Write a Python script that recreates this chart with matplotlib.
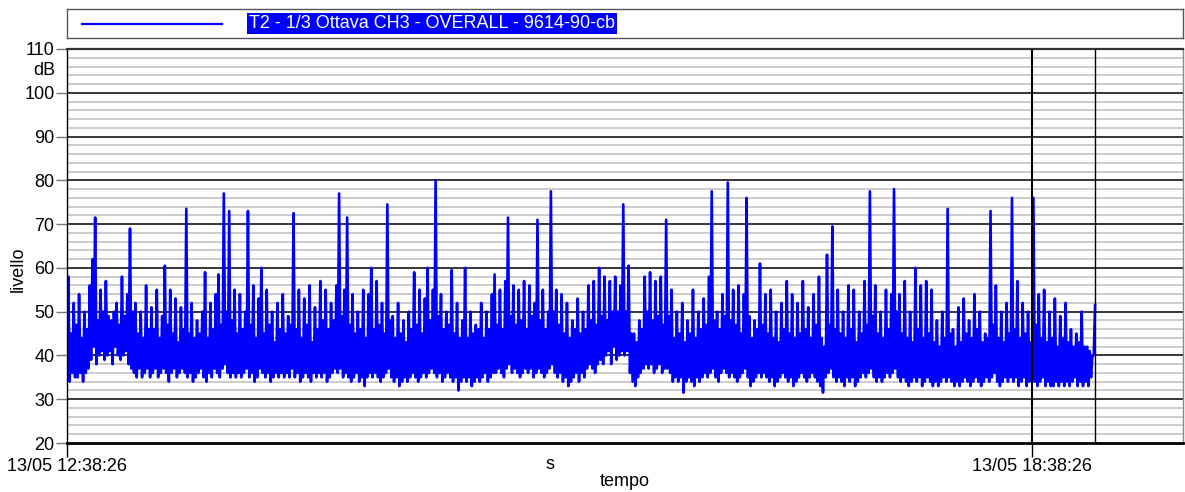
import numpy as np
import pandas as pd
import matplotlib
matplotlib.use("Agg")
import matplotlib.pyplot as plt
import matplotlib.dates as mdates
import matplotlib.transforms as mtransforms

plt.rcParams['font.family'] = ['Liberation Sans Narrow', 'Liberation Sans', 'DejaVu Sans']

# livelli massimi e minimi al minuto (dB), a partire da 13/05 12:38:26
l_max = [
    58, 45, 52, 47, 54, 44, 50, 46, 56, 62, 71.5, 48, 55, 50, 57, 49,
    48, 50, 52, 47, 58, 49, 54, 69, 50, 52, 45, 50, 44, 56, 46, 51,
    46, 55, 44, 49, 60.5, 47, 55, 45, 53, 43, 51, 46, 73.5, 45, 52, 44,
    48, 45, 50, 59, 44, 52, 46, 54, 58.5, 47, 77, 50, 73, 48, 55, 45,
    54, 46, 50, 73, 47, 56, 44, 53, 60, 45, 55, 47, 50, 43, 52, 46,
    54, 45, 49, 47, 72.5, 46, 55, 44, 53, 47, 56, 43, 51, 46, 57, 48,
    55, 46, 52, 48, 56, 77, 49, 55, 71.5, 47, 54, 45, 50, 46, 55, 44,
    54, 60, 46, 57, 47, 52, 45, 74.5, 48, 49, 44, 52, 45, 48, 43, 50,
    46, 59, 47, 55, 45, 53, 60, 48, 55, 80, 49, 54, 46, 50, 47, 59.5,
    45, 52, 44, 48, 60, 44, 50, 45, 47, 46, 52, 44, 50, 46, 54, 58.5,
    47, 55, 46, 57, 71.5, 49, 56, 47, 55, 48, 57, 46, 56, 49, 52, 71,
    48, 55, 46, 50, 77.5, 50, 55, 47, 54, 45, 52, 44, 48, 46, 53, 45,
    50, 46, 56, 48, 57, 47, 60, 49, 58, 48, 57, 50, 58, 50, 56, 74.5,
    50, 60.5, 45, 45, 43, 48, 46, 58, 50, 59, 48, 57, 49, 58, 47, 71,
    49, 55, 44, 50, 45, 52, 43, 48, 45, 55, 44, 50, 46, 53, 47, 58,
    77.5, 48, 50, 46, 54, 49, 79.5, 48, 55, 47, 56, 45, 54, 76, 49, 44,
    48, 46, 61, 47, 54, 45, 55, 44, 50, 43, 52, 46, 57, 45, 54, 44,
    52, 45, 57, 46, 51, 44, 54, 47, 58, 44, 42, 63, 47, 69.5, 46, 55,
    45, 50, 44, 56, 46, 55, 43, 50, 45, 57, 47, 77.5, 49, 56, 45, 50,
    44, 55, 46, 54, 78, 50, 54, 45, 57, 44, 50, 43, 60, 46, 56, 44,
    57, 45, 55, 43, 48, 42, 50, 44, 73.5, 45, 46, 42, 51, 43, 53, 45,
    48, 44, 54, 46, 50, 43, 45, 44, 73, 47, 56, 44, 50, 43, 52, 45,
    76, 46, 57, 44, 52, 45, 50, 43, 76, 47, 54, 44, 55, 43, 50, 44,
    53, 42, 49, 44, 52, 43, 46, 42, 45, 43, 50, 42, 42, 41, 40, 51.5,
]
l_min = [
    38, 34, 36, 35, 35, 36, 34, 36, 37, 39, 42, 38, 40, 41, 39, 40,
    41, 38, 42, 40, 39, 40, 41, 38, 37, 36, 35, 37, 35, 36, 37, 35,
    36, 37, 35, 36, 37, 36, 34, 36, 37, 35, 36, 37, 36, 35, 36, 34,
    35, 36, 37, 35, 34, 36, 35, 37, 36, 35, 37, 38, 36, 35, 36, 35,
    36, 35, 36, 37, 35, 36, 34, 35, 37, 36, 35, 36, 34, 35, 36, 35,
    36, 35, 36, 35, 37, 35, 36, 34, 35, 36, 35, 34, 36, 35, 36, 35,
    36, 34, 35, 36, 37, 36, 37, 35, 36, 35, 34, 35, 36, 34, 35, 33,
    35, 36, 35, 36, 35, 34, 35, 36, 37, 35, 34, 35, 33, 34, 35, 34,
    35, 36, 35, 34, 35, 36, 35, 36, 37, 36, 35, 36, 34, 35, 36, 35,
    34, 35, 32, 34, 35, 34, 35, 33, 34, 35, 34, 35, 36, 34, 35, 36,
    36, 37, 36, 35, 37, 38, 36, 37, 36, 35, 36, 37, 36, 37, 35, 36,
    37, 36, 35, 36, 37, 38, 36, 35, 36, 34, 35, 33, 34, 35, 36, 34,
    36, 35, 37, 38, 37, 36, 38, 39, 38, 40, 41, 38, 42, 39, 40, 41,
    40, 41, 36, 34, 33, 35, 36, 37, 38, 37, 38, 36, 37, 38, 36, 37,
    37, 36, 34, 35, 34, 35, 31.5, 34, 35, 34, 33, 35, 34, 35, 36, 35,
    36, 37, 35, 34, 36, 37, 36, 35, 36, 35, 34, 35, 36, 37, 35, 33,
    34, 35, 36, 35, 36, 35, 34, 35, 33, 34, 35, 36, 35, 34, 35, 33,
    34, 35, 36, 35, 34, 35, 36, 35, 34, 33, 31.5, 35, 36, 37, 35, 34,
    35, 34, 33, 35, 34, 35, 33, 34, 35, 36, 35, 36, 37, 35, 34, 35,
    34, 35, 36, 35, 36, 37, 35, 34, 35, 34, 33, 34, 35, 34, 35, 33,
    34, 35, 34, 33, 34, 33, 34, 35, 34, 35, 34, 33, 34, 33, 34, 35,
    34, 33, 34, 35, 34, 33, 34, 35, 34, 35, 36, 34, 33, 34, 35, 34,
    35, 34, 35, 33, 34, 35, 33, 34, 35, 34, 33, 34, 35, 33, 34, 33,
    33, 34, 33, 34, 33, 34, 33, 34, 35, 33, 34, 33, 34, 33, 35, 40,
]

inizio = pd.Timestamp('2023-05-13 12:38:26')
titolo = 'T2 - 1/3 Ottava CH3 - OVERALL - 9614-90-cb'
y_ticks = np.arange(20, 111, 10)

# traccia min/max: per ogni minuto prima il minimo, poi il massimo a metà minuto
minuti = np.arange(len(l_max))
t_min = inizio + pd.to_timedelta(minuti, unit='min')
t_max = inizio + pd.to_timedelta(minuti + 0.5, unit='min')
tempo = np.empty(2 * len(minuti), dtype='datetime64[ns]')
tempo[0::2] = t_min.values
tempo[1::2] = t_max.values
livello = np.empty(2 * len(minuti))
livello[0::2] = l_min
livello[1::2] = l_max

tick_tempi = [inizio, inizio + pd.Timedelta(hours=6)]
fine_asse = inizio + pd.Timedelta(minutes=416.3)

fig = plt.figure(figsize=(11.85, 4.92), dpi=100, facecolor='white')
ax = fig.add_axes([67 / 1185, 1 - 443 / 492, 1116 / 1185, 394 / 492])

# griglia: righe leggere ogni 2 dB, nere ogni 10 dB
for v in np.arange(22, 110, 2):
    if v % 10:
        ax.axhline(v, color='#c8c8c8', lw=1.3, zorder=0)
for v in y_ticks[1:-1]:
    ax.axhline(v, color='black', lw=1.1, zorder=0.5)

ax.plot(tempo, livello, color='#0000ff', lw=1.9, zorder=2)

# cursore a 18:38:26 e fine registrazione
ax.axvline(tick_tempi[1], color='black', lw=1.5, zorder=3)
ax.axvline(tempo[-1], color='black', lw=1.0, zorder=3)

ax.set_xlim(inizio, fine_asse)
ax.set_ylim(20, 110)
ax.set_yticks(y_ticks)
ax.set_xticks(tick_tempi)
ax.xaxis.set_major_formatter(mdates.DateFormatter('%d/%m %H:%M:%S'))
ax.tick_params(axis='x', direction='out', length=10, width=1, color='black',
               labelsize=13, pad=1)
ax.tick_params(axis='y', direction='out', length=8, width=1, color='#777777',
               labelsize=13, pad=1)

for lato, lw, col in [('bottom', 2.0, 'black'), ('top', 1.6, '#333333'),
                      ('left', 1.0, 'black'), ('right', 1.0, '#888888')]:
    ax.spines[lato].set_linewidth(lw)
    ax.spines[lato].set_color(col)

ax.set_xlabel('tempo', fontsize=13, labelpad=-2)
ax.set_ylabel('livello', fontsize=13)
ax.yaxis.set_label_coords(-0.036, 0.44)

trans = mtransforms.blended_transform_factory(ax.transAxes, ax.transData)
ax.text(-0.0105, 105, 'dB', transform=trans, ha='right', va='center', fontsize=13)
ax.text(0.5 * 360 / 416.3, -0.055, 's', transform=ax.transAxes,
        ha='center', va='center', fontsize=13)

# riquadro della legenda in alto
leg = fig.add_axes([67 / 1185, 1 - 38 / 492, 1116 / 1185, 29 / 492])
leg.set_xlim(0, 1)
leg.set_ylim(0, 1)
leg.set_xticks([])
leg.set_yticks([])
for s in leg.spines.values():
    s.set_color('#555555')
    s.set_linewidth(1.0)
leg.plot([15 / 1116, 155 / 1116], [0.5, 0.5], color='#0000ff', lw=1.6)
leg.text(182 / 1116, 0.5, titolo, color='white', fontsize=13, ha='left', va='center',
         bbox=dict(facecolor='#0000ff', edgecolor='none', pad=1.5))

fig.savefig('out.png', dpi=100, facecolor='white')
